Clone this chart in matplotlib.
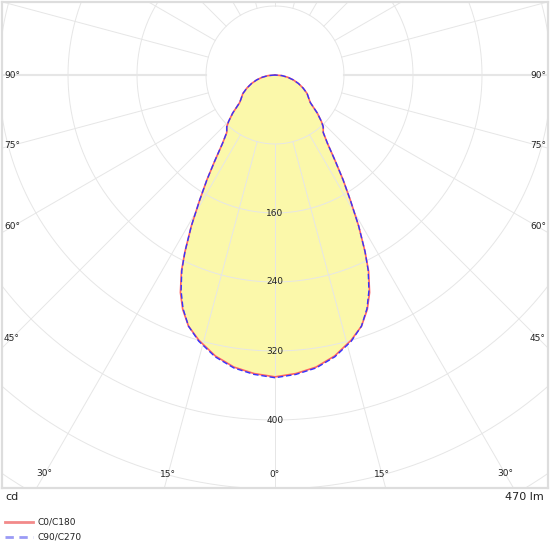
import numpy as np
import matplotlib
matplotlib.use("Agg")
import matplotlib.pyplot as plt
from matplotlib.lines import Line2D

# gamma angles (deg) and luminous intensity (cd)
gamma = [0, 4, 8, 12, 16, 19, 21.5, 23.5, 25.5, 27, 29, 31, 33, 35, 37.5, 40, 43,
         45, 48, 52, 55, 60, 65, 70, 75, 80, 85, 90]
cd_c0 = [350, 347, 342, 333, 320, 308, 292, 275, 252, 230, 200, 170, 145, 122, 100,
         87, 82, 76, 66, 52, 48, 43, 36, 29, 22, 15, 8, 0]
cd_c90 = [351, 348, 343, 334, 321, 308, 291, 273, 251, 230, 200, 170, 145, 122, 100,
          87, 82, 76, 66, 52, 48, 43, 36, 29, 22, 15, 8, 0]

rings = [80, 160, 240, 320, 400, 480, 560]
ring_labels = [160, 240, 320, 400]
angle_ticks = [15, 30, 45, 60, 75, 90]
flux_label = "470 lm"
unit_label = "cd"
series_names = ["C0/C180", "C90/C270"]

W, H = 550, 550
px_per_cd = 69 / 80.0
cx, cy = 275, 75          # centre of the diagram in pixels
left, right, top, bottom = 2, 548, 2, 488


def to_cd(xpx, ypx):
    return (xpx - cx) / px_per_cd, -(ypx - cy) / px_per_cd


def curve(vals):
    g = np.radians(np.array(gamma, dtype=float))
    v = np.array(vals, dtype=float)
    gg = np.concatenate([-g[::-1], g[1:]])
    vv = np.concatenate([v[::-1], v[1:]])
    return vv * np.sin(gg), -vv * np.cos(gg)


fig = plt.figure(figsize=(W / 100, H / 100), dpi=100)
ax = fig.add_axes([left / W, 1 - bottom / H, (right - left) / W, (bottom - top) / H])
x0, y1 = to_cd(left, top)
x1, y0 = to_cd(right, bottom)
ax.set_xlim(x0, x1)
ax.set_ylim(y0, y1)
ax.set_xticks([])
ax.set_yticks([])
for s in ax.spines.values():
    s.set_color("#dddddd")
    s.set_linewidth(1.6)

grid_col = "#e6e6e6"
t = np.linspace(0, 2 * np.pi, 721)
for r in rings:
    ax.plot(r * np.cos(t), r * np.sin(t), color=grid_col, lw=0.7, zorder=2)
for k in range(24):
    a = np.radians(k * 15)
    lw = 1.5 if k in (6, 18) else 0.7
    ax.plot([80 * np.sin(a), 900 * np.sin(a)], [-80 * np.cos(a), -900 * np.cos(a)],
            color=grid_col, lw=lw, zorder=2)

# light distribution
xa, ya = curve(cd_c0)
xb, yb = curve(cd_c90)
ax.fill(xa, ya, color="#fbf8aa", lw=0, zorder=1)
ax.plot(xa, ya, color="#ff6464", lw=1.2, zorder=3)
ax.plot(xb, yb, color="#3535ff", lw=1.0, ls=(0, (4, 2)), zorder=4)

# ring labels
for r in ring_labels:
    ax.text(0, -r, str(r), ha="center", va="center", fontsize=6.5, color="#222222", zorder=5)

# angle labels on an inner rectangle
lim_x, _ = to_cd(12, 0)
lim_x = abs(lim_x)
_, lim_y = to_cd(0, 474)
lim_y = abs(lim_y)
for g in [0] + angle_ticks:
    a = np.radians(g)
    cands = []
    if np.sin(a) > 1e-9:
        cands.append(lim_x / np.sin(a))
    if np.cos(a) > 1e-9:
        cands.append(lim_y / np.cos(a))
    d = min(cands)
    for sgn in ([1] if g == 0 else [-1, 1]):
        ax.text(sgn * d * np.sin(a), -d * np.cos(a), f"{g}°", ha="center", va="center",
                fontsize=6.5, color="#222222", zorder=5)

fig.text(5 / W, 1 - 497 / H, unit_label, ha="left", va="center", fontsize=8, color="#222222")
fig.text(544 / W, 1 - 497 / H, flux_label, ha="right", va="center", fontsize=8, color="#222222")

# legend
fig.add_artist(Line2D([5 / W, 33 / W], [1 - 522 / H] * 2, transform=fig.transFigure,
                      color="#f28a8a", lw=2))
fig.add_artist(Line2D([5 / W, 33 / W], [1 - 537 / H] * 2, transform=fig.transFigure,
                      color="#9a9af5", lw=2, ls=(0, (3, 2))))
fig.text(38 / W, 1 - 522 / H, series_names[0], ha="left", va="center", fontsize=6.5, color="#222222")
fig.text(38 / W, 1 - 537 / H, series_names[1], ha="left", va="center", fontsize=6.5, color="#222222")

fig.savefig("out.png", dpi=100)
